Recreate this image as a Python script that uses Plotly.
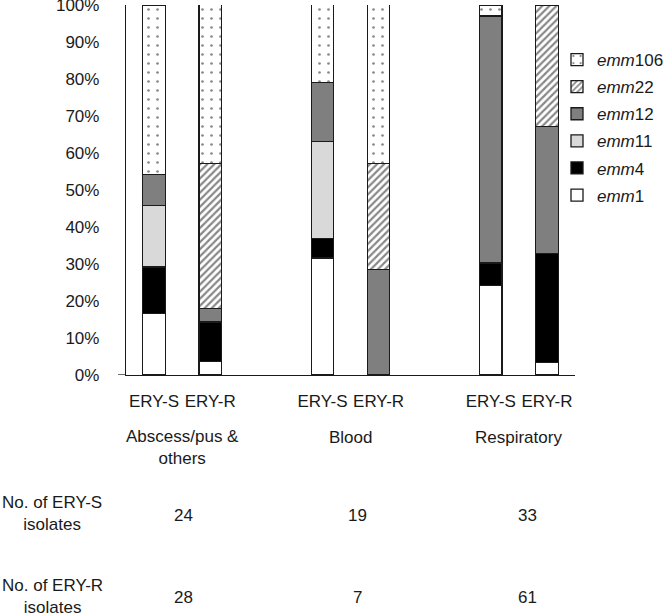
import plotly.graph_objects as go

# ---- data ----
bar_labels = ["ERY-S", "ERY-R", "ERY-S", "ERY-R", "ERY-S", "ERY-R"]
bar_slots = [0, 1, 3, 4, 6, 7]
groups = ["Abscess/pus &<br>others", "Blood", "Respiratory"]
group_slots = [0.5, 3.5, 6.5]
y_ticks = [0, 10, 20, 30, 40, 50, 60, 70, 80, 90, 100]
y_ticktext = ["0%", "10%", "20%", "30%", "40%", "50%", "60%", "70%", "80%", "90%", "100%"]

emm1 = [16.7, 3.6, 31.6, 0, 24.2, 3.3]
emm4 = [12.5, 10.7, 5.3, 0, 6.1, 29.5]
emm11 = [16.7, 0, 26.3, 0, 0, 0]
emm12 = [8.3, 3.6, 15.8, 28.6, 66.7, 34.4]
emm22 = [0, 39.3, 0, 28.6, 0, 32.8]
emm106 = [45.8, 42.9, 21.1, 42.9, 3.0, 0]

n_ery_s = [24, 19, 33]
n_ery_r = [28, 7, 61]
row_labels = ["No. of ERY-S<br>isolates", "No. of ERY-R<br>isolates"]

FONT = "Liberation Sans, Arial, Helvetica, sans-serif"
TXT = "#1a1a1a"

def nz(v):
    return [None if x == 0 else x for x in v]

series = [
    ("<i>emm</i>1", emm1, dict(color="white")),
    ("<i>emm</i>4", emm4, dict(color="black")),
    ("<i>emm</i>11", emm11, dict(color="#d9d9d9")),
    ("<i>emm</i>12", emm12, dict(color="#7f7f7f")),
    ("<i>emm</i>22", emm22, dict(color="white",
                                 pattern=dict(shape="/", fgcolor="#111111", bgcolor="white",
                                              size=5, solidity=0.45))),
    ("<i>emm</i>106", emm106, dict(color="white",
                                   pattern=dict(shape=".", fgcolor="#111111", bgcolor="white",
                                                size=9, solidity=0.07))),
]

fig = go.Figure()
n = len(series)
for i, (name, vals, mk) in enumerate(series):
    mk = dict(mk)
    mk["line"] = dict(color="#1a1a1a", width=1.3)
    fig.add_trace(go.Bar(x=bar_slots, y=nz(vals), name=name, marker=mk, width=0.4,
                         legendgroup="g%d" % i, legendrank=n - i))

def py(p):
    # pixel row -> paper y
    return 1 - (p - 5) / 370

def px(p):
    return (p - 126) / 449

F = dict(size=17, family=FONT, color=TXT)
annotations = []
grp_y = [447, 437, 437]
for gx, g, gy in zip(group_slots, groups, grp_y):
    annotations.append(dict(x=gx, y=py(gy), xref="x", yref="paper", text=g, showarrow=False,
                            xanchor="center", yanchor="middle", font=F))
tbl_x = [183, 357, 527]
for tx, a, b in zip(tbl_x, n_ery_s, n_ery_r):
    annotations.append(dict(x=px(tx), y=py(515), xref="paper", yref="paper", text=str(a),
                            showarrow=False, xanchor="center", yanchor="middle", font=F))
    annotations.append(dict(x=px(tx), y=py(597), xref="paper", yref="paper", text=str(b),
                            showarrow=False, xanchor="center", yanchor="middle", font=F))
for yy, t in zip([513.5, 596], row_labels):
    annotations.append(dict(x=px(52), y=py(yy), xref="paper", yref="paper", text=t,
                            showarrow=False, align="center", xanchor="center", yanchor="middle",
                            font=F))

fig.update_layout(
    width=666, height=614,
    margin=dict(l=126, r=91, t=5, b=239, autoexpand=False),
    barmode="stack",
    paper_bgcolor="white", plot_bgcolor="white",
    font=F,
    xaxis=dict(range=[-0.5, 7.5], tickvals=bar_slots, ticktext=bar_labels,
               showline=True, linecolor="#1a1a1a", linewidth=1.3, showgrid=False,
               zeroline=False, ticks="", ticklabelstandoff=10, fixedrange=True,
               automargin=False),
    yaxis=dict(range=[0, 100], tickmode="array", tickvals=y_ticks, ticktext=y_ticktext,
               showline=True, linecolor="#1a1a1a", linewidth=1.3, showgrid=False,
               zeroline=False, ticks="", ticklabelstandoff=22, fixedrange=True,
               ticklabeloverflow="allow", automargin=False),
    legend=dict(x=px(565), xanchor="left", y=py(42), yanchor="top",
                traceorder="grouped", tracegroupgap=2, indentation=-8,
                font=dict(size=17, family=FONT, color=TXT), bgcolor="rgba(0,0,0,0)"),
    annotations=annotations,
    shapes=[dict(type="line", xref="paper", yref="y", x0=px(118), x1=0, y0=0, y1=0,
                 line=dict(color="#1a1a1a", width=1.3))],
    showlegend=True,
)

fig.write_html("out.html", config={"displayModeBar": False},
               post_script="document.body.style.margin='0px';")
